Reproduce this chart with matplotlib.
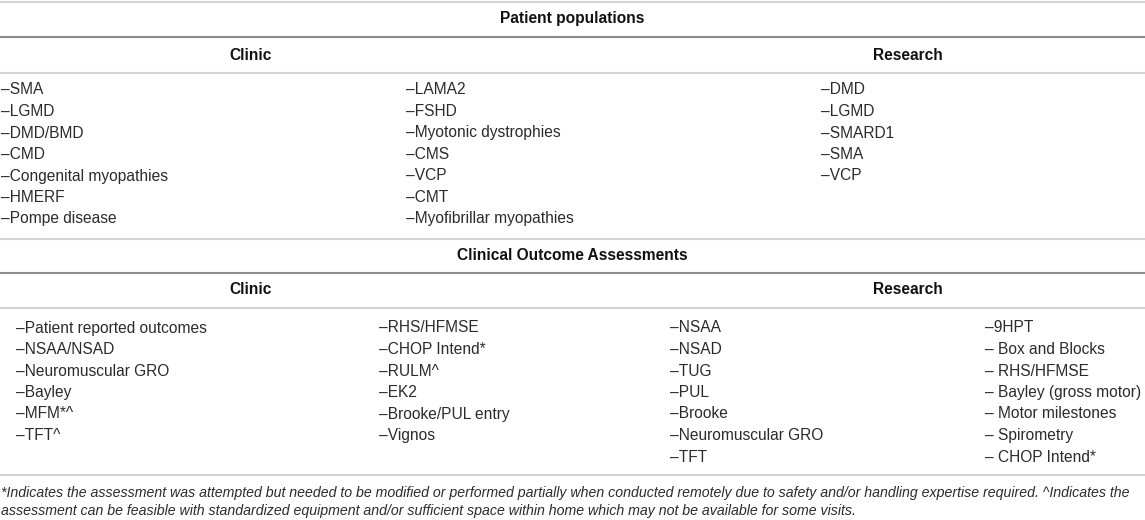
import matplotlib
matplotlib.use("Agg")
import matplotlib.pyplot as plt

plt.rcParams['font.family'] = ['Liberation Sans', 'DejaVu Sans']

# table content
title_pop = "Patient populations"
title_coa = "Clinical Outcome Assessments"
group_labels = ["Clinic", "Research"]

pop_clinic_a = ["SMA", "LGMD", "DMD/BMD", "CMD", "Congenital myopathies", "HMERF", "Pompe disease"]
pop_clinic_b = ["LAMA2", "FSHD", "Myotonic dystrophies", "CMS", "VCP", "CMT", "Myofibrillar myopathies"]
pop_research = ["DMD", "LGMD", "SMARD1", "SMA", "VCP"]

coa_clinic_a = ["Patient reported outcomes", "NSAA/NSAD", "Neuromuscular GRO", "Bayley", "MFM*^", "TFT^"]
coa_clinic_b = ["RHS/HFMSE", "CHOP Intend*", "RULM^", "EK2", "Brooke/PUL entry", "Vignos"]
coa_research_a = ["NSAA", "NSAD", "TUG", "PUL", "Brooke", "Neuromuscular GRO", "TFT"]
coa_research_b = ["9HPT", " Box and Blocks", " RHS/HFMSE", " Bayley (gross motor)",
                  " Motor milestones", " Spirometry", " CHOP Intend*"]

footnote = ["*Indicates the assessment was attempted but needed to be modified or performed partially "
            "when conducted remotely due to safety and/or handling expertise required. ^Indicates the",
            "assessment can be feasible with standardized equipment and/or sufficient space within home "
            "which may not be available for some visits."]

W, H = 1145, 520
fig = plt.figure(figsize=(W / 100, H / 100), dpi=100)
ax = fig.add_axes([0, 0, 1, 1])
ax.set_xlim(0, W)
ax.set_ylim(H, 0)
ax.axis('off')

fs = 11.2
body_col = '#2b2b2b'
light = '#d4d4d4'
dark = '#8c8c8c'
step = 21.5


def hline(y, color, lw):
    ax.plot([0, W], [y, y], color=color, lw=lw, solid_capstyle='butt')


def column(items, x, y0):
    for i, s in enumerate(items):
        ax.text(x, y0 + i * step, "\u2013" + s, fontsize=fs, color=body_col,
                ha='left', va='center')


def header(s, x, y):
    ax.text(x, y, s, fontsize=fs, fontweight='bold', color='#111111', ha='center', va='center')


# section 1
hline(1.5, light, 1.5)
header(title_pop, W / 2, 19)
hline(37, dark, 1.5)
header(group_labels[0], 251, 55)
header(group_labels[1], 908, 55)
hline(73, light, 1.5)
column(pop_clinic_a, 1, 90)
column(pop_clinic_b, 406, 90)
column(pop_research, 821, 90)

# section 2
hline(239, light, 1.5)
header(title_coa, W / 2, 256)
hline(273, dark, 1.5)
header(group_labels[0], 251, 290)
header(group_labels[1], 908, 290)
hline(308, light, 1.5)
column(coa_clinic_a, 16, 328)
column(coa_clinic_b, 379, 328)
column(coa_research_a, 670, 328)
column(coa_research_b, 985, 328)

hline(475, light, 1.5)
for i, s in enumerate(footnote):
    ax.text(1, 493 + i * 18, s, fontsize=fs * 0.91, style='italic', color=body_col,
            ha='left', va='center')

fig.savefig("out.png", dpi=100)
